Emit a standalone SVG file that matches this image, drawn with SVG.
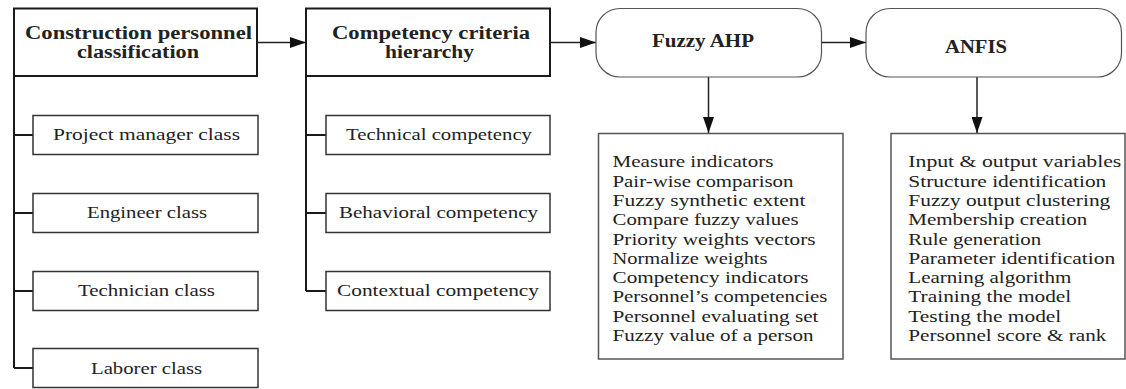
<svg xmlns="http://www.w3.org/2000/svg" width="1126" height="389" viewBox="0 0 1126 389">
<style>
.hdr{fill:#fff;stroke:#1a1a1a;stroke-width:2}
.child{fill:#fff;stroke:#333;stroke-width:1.5}
.pill{fill:#fff;stroke:#555;stroke-width:1.2}
.list{fill:#fff;stroke:#555;stroke-width:1.5}
.tree{fill:none;stroke:#1a1a1a;stroke-width:2}
.conn{fill:none;stroke:#222;stroke-width:1.5}
.tb{font-family:"Liberation Serif",serif;font-weight:bold;font-size:18px;fill:#222;text-anchor:middle}
.tc{font-family:"Liberation Serif",serif;font-size:17px;fill:#222;text-anchor:middle}
.tl{font-family:"Liberation Serif",serif;font-size:17px;fill:#222}
</style>
<defs>
<marker id="ah" viewBox="0 0 16 11" refX="16" refY="5.5" markerWidth="16" markerHeight="11" markerUnits="userSpaceOnUse" orient="auto">
<path d="M0,0 L16,5.5 L0,11 Z" fill="#111"/>
</marker>
</defs>
<rect width="1126" height="389" fill="#fff"/>

<g id="connectors">
<line class="conn" x1="257" y1="42.5" x2="306" y2="42.5" marker-end="url(#ah)"/>
<line class="conn" x1="550" y1="42.5" x2="596" y2="42.5" marker-end="url(#ah)"/>
<line class="conn" x1="821.5" y1="42.5" x2="866" y2="42.5" marker-end="url(#ah)"/>
<line class="conn" x1="708.5" y1="77" x2="708.5" y2="133" marker-end="url(#ah)"/>
<line class="conn" x1="977" y1="77" x2="977" y2="133" marker-end="url(#ah)"/>
<path class="tree" d="M14,76 V368 M14,135 H33 M14,213 H33 M14,291 H33 M14,368 H33"/>
<path class="tree" d="M306,76 V291 M306,135 H326 M306,213 H326 M306,291 H326"/>
</g>

<g id="construction-personnel-classification">
<rect class="hdr" x="14" y="8.5" width="243" height="67.5"/>
<text class="tb" x="138.5" y="39.3" textLength="227" lengthAdjust="spacingAndGlyphs">Construction personnel</text>
<text class="tb" x="138" y="57.8" textLength="122" lengthAdjust="spacingAndGlyphs">classification</text>
</g>

<g id="project-manager-class">
<rect class="child" x="33" y="115.5" width="225" height="39"/>
<text class="tc" x="146.5" y="139.5" textLength="187" lengthAdjust="spacingAndGlyphs">Project manager class</text>
</g>
<g id="engineer-class">
<rect class="child" x="33" y="193.5" width="225" height="39"/>
<text class="tc" x="147" y="218.3" textLength="120" lengthAdjust="spacingAndGlyphs">Engineer class</text>
</g>
<g id="technician-class">
<rect class="child" x="33" y="271.5" width="225" height="39"/>
<text class="tc" x="146.5" y="295.7" textLength="137" lengthAdjust="spacingAndGlyphs">Technician class</text>
</g>
<g id="laborer-class">
<rect class="child" x="33" y="348.5" width="225" height="39"/>
<text class="tc" x="146.5" y="374.3" textLength="111" lengthAdjust="spacingAndGlyphs">Laborer class</text>
</g>

<g id="competency-criteria-hierarchy">
<rect class="hdr" x="306" y="8.5" width="244" height="67.5"/>
<text class="tb" x="431" y="39.3" textLength="198" lengthAdjust="spacingAndGlyphs">Competency criteria</text>
<text class="tb" x="429.5" y="57.8" textLength="89" lengthAdjust="spacingAndGlyphs">hierarchy</text>
</g>

<g id="technical-competency">
<rect class="child" x="326" y="115.5" width="224" height="39"/>
<text class="tc" x="439" y="139.5" textLength="186" lengthAdjust="spacingAndGlyphs">Technical competency</text>
</g>
<g id="behavioral-competency">
<rect class="child" x="326" y="193.5" width="224" height="39"/>
<text class="tc" x="438.5" y="218.3" textLength="199" lengthAdjust="spacingAndGlyphs">Behavioral competency</text>
</g>
<g id="contextual-competency">
<rect class="child" x="326" y="271.5" width="224" height="39"/>
<text class="tc" x="438" y="295.7" textLength="202" lengthAdjust="spacingAndGlyphs">Contextual competency</text>
</g>

<g id="fuzzy-ahp">
<rect class="pill" x="596" y="8.5" width="225.5" height="68.5" rx="24" ry="24"/>
<text class="tb" x="703" y="47" font-size="17" textLength="102" lengthAdjust="spacingAndGlyphs">Fuzzy AHP</text>
</g>

<g id="anfis">
<rect class="pill" x="866" y="8.5" width="255.5" height="68.5" rx="24" ry="24"/>
<text class="tb" x="976" y="53.3" font-size="16" textLength="62" lengthAdjust="spacingAndGlyphs">ANFIS</text>
</g>

<g id="fuzzy-ahp-steps">
<rect class="list" x="598.5" y="133.5" width="244.5" height="225.5"/>
<text class="tl" x="612.5" y="167.4" textLength="161" lengthAdjust="spacingAndGlyphs">Measure indicators</text>
<text class="tl" x="612.5" y="186.7" textLength="181" lengthAdjust="spacingAndGlyphs">Pair-wise comparison</text>
<text class="tl" x="612.5" y="205.9" textLength="193" lengthAdjust="spacingAndGlyphs">Fuzzy synthetic extent</text>
<text class="tl" x="612.5" y="225.2" textLength="186" lengthAdjust="spacingAndGlyphs">Compare fuzzy values</text>
<text class="tl" x="612.5" y="244.5" textLength="203" lengthAdjust="spacingAndGlyphs">Priority weights vectors</text>
<text class="tl" x="612.5" y="263.7" textLength="155" lengthAdjust="spacingAndGlyphs">Normalize weights</text>
<text class="tl" x="612.5" y="283.0" textLength="196" lengthAdjust="spacingAndGlyphs">Competency indicators</text>
<text class="tl" x="612.5" y="302.3" textLength="215" lengthAdjust="spacingAndGlyphs">Personnel’s competencies</text>
<text class="tl" x="612.5" y="321.5" textLength="206" lengthAdjust="spacingAndGlyphs">Personnel evaluating set</text>
<text class="tl" x="612.5" y="340.8" textLength="201" lengthAdjust="spacingAndGlyphs">Fuzzy value of a person</text>
</g>

<g id="anfis-steps">
<rect class="list" x="891" y="133.5" width="234" height="225.5"/>
<text class="tl" x="908.3" y="167.4" textLength="213" lengthAdjust="spacingAndGlyphs">Input &amp; output variables</text>
<text class="tl" x="908.3" y="186.7" textLength="198" lengthAdjust="spacingAndGlyphs">Structure identification</text>
<text class="tl" x="908.3" y="205.9" textLength="202" lengthAdjust="spacingAndGlyphs">Fuzzy output clustering</text>
<text class="tl" x="908.3" y="225.2" textLength="179" lengthAdjust="spacingAndGlyphs">Membership creation</text>
<text class="tl" x="908.3" y="244.5" textLength="133" lengthAdjust="spacingAndGlyphs">Rule generation</text>
<text class="tl" x="908.3" y="263.7" textLength="207" lengthAdjust="spacingAndGlyphs">Parameter identification</text>
<text class="tl" x="908.3" y="283.0" textLength="163" lengthAdjust="spacingAndGlyphs">Learning algorithm</text>
<text class="tl" x="908.3" y="302.3" textLength="163" lengthAdjust="spacingAndGlyphs">Training the model</text>
<text class="tl" x="908.3" y="321.5" textLength="153" lengthAdjust="spacingAndGlyphs">Testing the model</text>
<text class="tl" x="908.3" y="340.8" textLength="198" lengthAdjust="spacingAndGlyphs">Personnel score &amp; rank</text>
</g>
</svg>
